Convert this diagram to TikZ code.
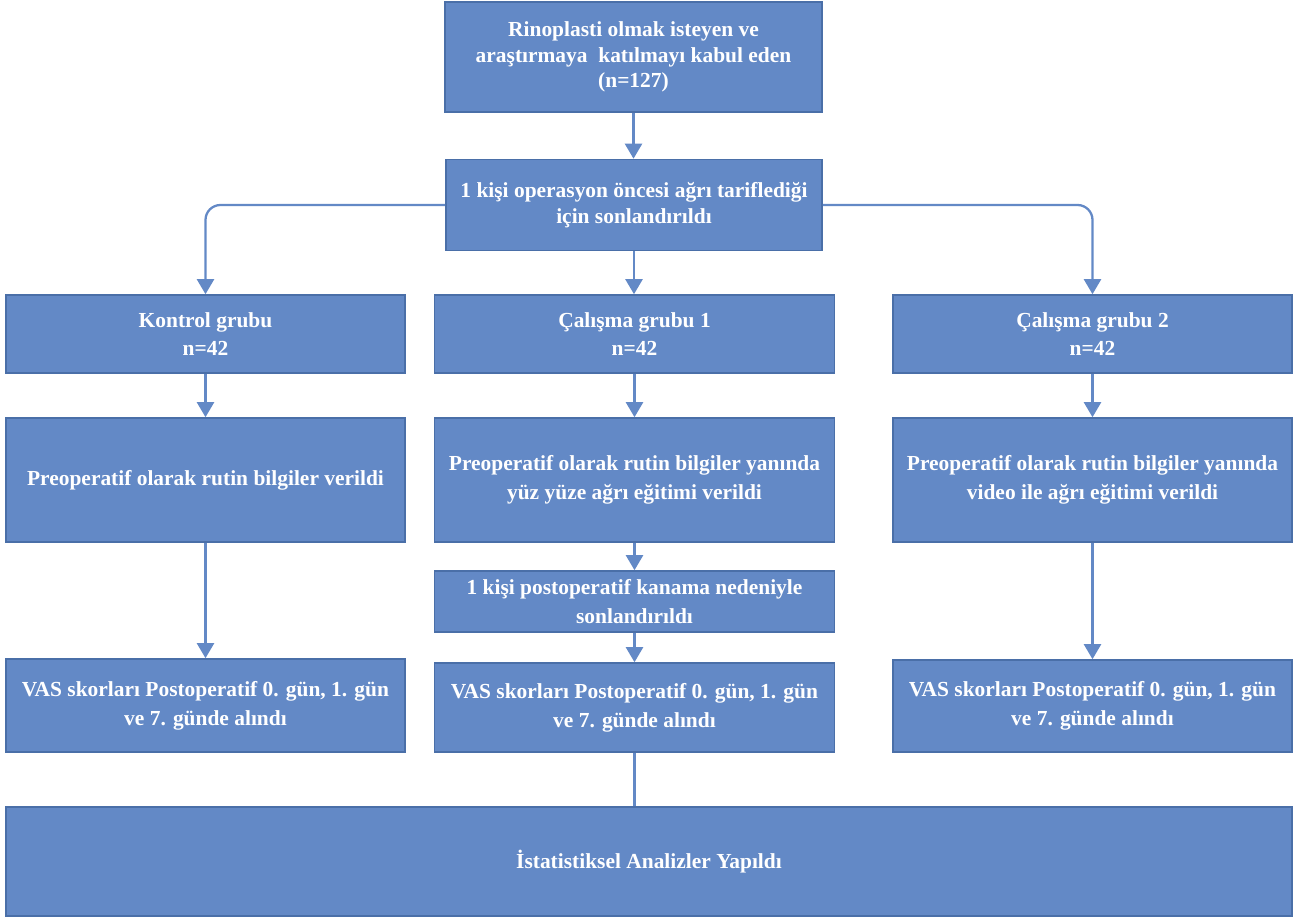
\documentclass[tikz,border=0pt]{standalone}
\usepackage{fontspec}
\setmainfont{Liberation Serif}
\usetikzlibrary{arrows.meta}
\definecolor{boxblue}{HTML}{6389C6}
\definecolor{boxedge}{HTML}{4A6FA8}
\begin{document}
\begin{tikzpicture}[
    x=0.02cm, y=-0.02cm,
    box/.style={rectangle, draw=boxedge, line width=0.9pt, fill=boxblue, text=white, inner sep=0pt, align=center, font=\fontsize{12.2}{16.4}\selectfont\bfseries},
    tight/.style={font=\fontsize{12.2}{14.5}\selectfont\bfseries},
    link/.style={draw=boxblue, line width=1.3pt, -{Triangle[length=0.3cm, width=0.34cm]}, rounded corners=0.3cm}
]
\useasboundingbox (0,0) rectangle (1303,918);

% Enrolment
\node[box, tight, minimum width=377*0.02cm, minimum height=110*0.02cm] (enrol) at (633.5,57) {Rinoplasti olmak isteyen ve\\araştırmaya\ \ katılmayı kabul eden\\(n=127)};
\node[box, tight, minimum width=376*0.02cm, minimum height=91*0.02cm] (excl1) at (634,205) {1 kişi operasyon öncesi ağrı tariflediği\\için sonlandırıldı};

% Groups
\node[box, minimum width=399*0.02cm, minimum height=78*0.02cm] (ctrl) at (205.5,334) {Kontrol grubu\\n=42};
\node[box, minimum width=400*0.02cm, minimum height=78*0.02cm] (grp1) at (634.5,334) {Çalışma grubu 1\\n=42};
\node[box, minimum width=399*0.02cm, minimum height=78*0.02cm] (grp2) at (1092.5,334) {Çalışma grubu 2\\n=42};

% Education
\node[box, minimum width=399*0.02cm, minimum height=124*0.02cm] (ctrledu) at (205.5,480) {Preoperatif olarak rutin bilgiler verildi};
\node[box, minimum width=400*0.02cm, minimum height=124*0.02cm] (grp1edu) at (634.5,480) {Preoperatif olarak rutin bilgiler yanında\\yüz yüze ağrı eğitimi verildi};
\node[box, minimum width=399*0.02cm, minimum height=124*0.02cm] (grp2edu) at (1092.5,480) {Preoperatif olarak rutin bilgiler yanında\\video ile ağrı eğitimi verildi};
\node[box, minimum width=400*0.02cm, minimum height=61*0.02cm] (excl2) at (634.5,601.5) {1 kişi postoperatif kanama nedeniyle\\sonlandırıldı};

% VAS
\node[box, minimum width=399*0.02cm, minimum height=93*0.02cm] (ctrlvas) at (205.5,705.5) {VAS skorları Postoperatif 0. gün, 1. gün\\ve 7. günde alındı};
\node[box, minimum width=400*0.02cm, minimum height=89*0.02cm] (grp1vas) at (634.5,707.5) {VAS skorları Postoperatif 0. gün, 1. gün\\ve 7. günde alındı};
\node[box, minimum width=399*0.02cm, minimum height=92*0.02cm] (grp2vas) at (1092.5,706) {VAS skorları Postoperatif 0. gün, 1. gün\\ve 7. günde alındı};

% Analysis
\node[box, minimum width=1286*0.02cm, minimum height=109*0.02cm] (stats) at (649,861.5) {İstatistiksel Analizler Yapıldı};

% Arrows
\draw[link] (enrol.south) -- (enrol.south |- excl1.north);
\draw[link] (excl1.west) -| (ctrl.north);
\draw[link] (excl1.south) -- (excl1.south |- grp1.north);
\draw[link] (excl1.east) -| (grp2.north);
\draw[link] (ctrl) -- (ctrledu);
\draw[link] (grp1) -- (grp1edu);
\draw[link] (grp2) -- (grp2edu);
\draw[link] (ctrledu) -- (ctrlvas);
\draw[link] (grp1edu) -- (excl2);
\draw[link] (excl2) -- (grp1vas);
\draw[link] (grp2edu) -- (grp2vas);
\draw[draw=boxblue, line width=1.3pt] (grp1vas.south) -- (grp1vas.south |- stats.north);

\end{tikzpicture}
\end{document}
